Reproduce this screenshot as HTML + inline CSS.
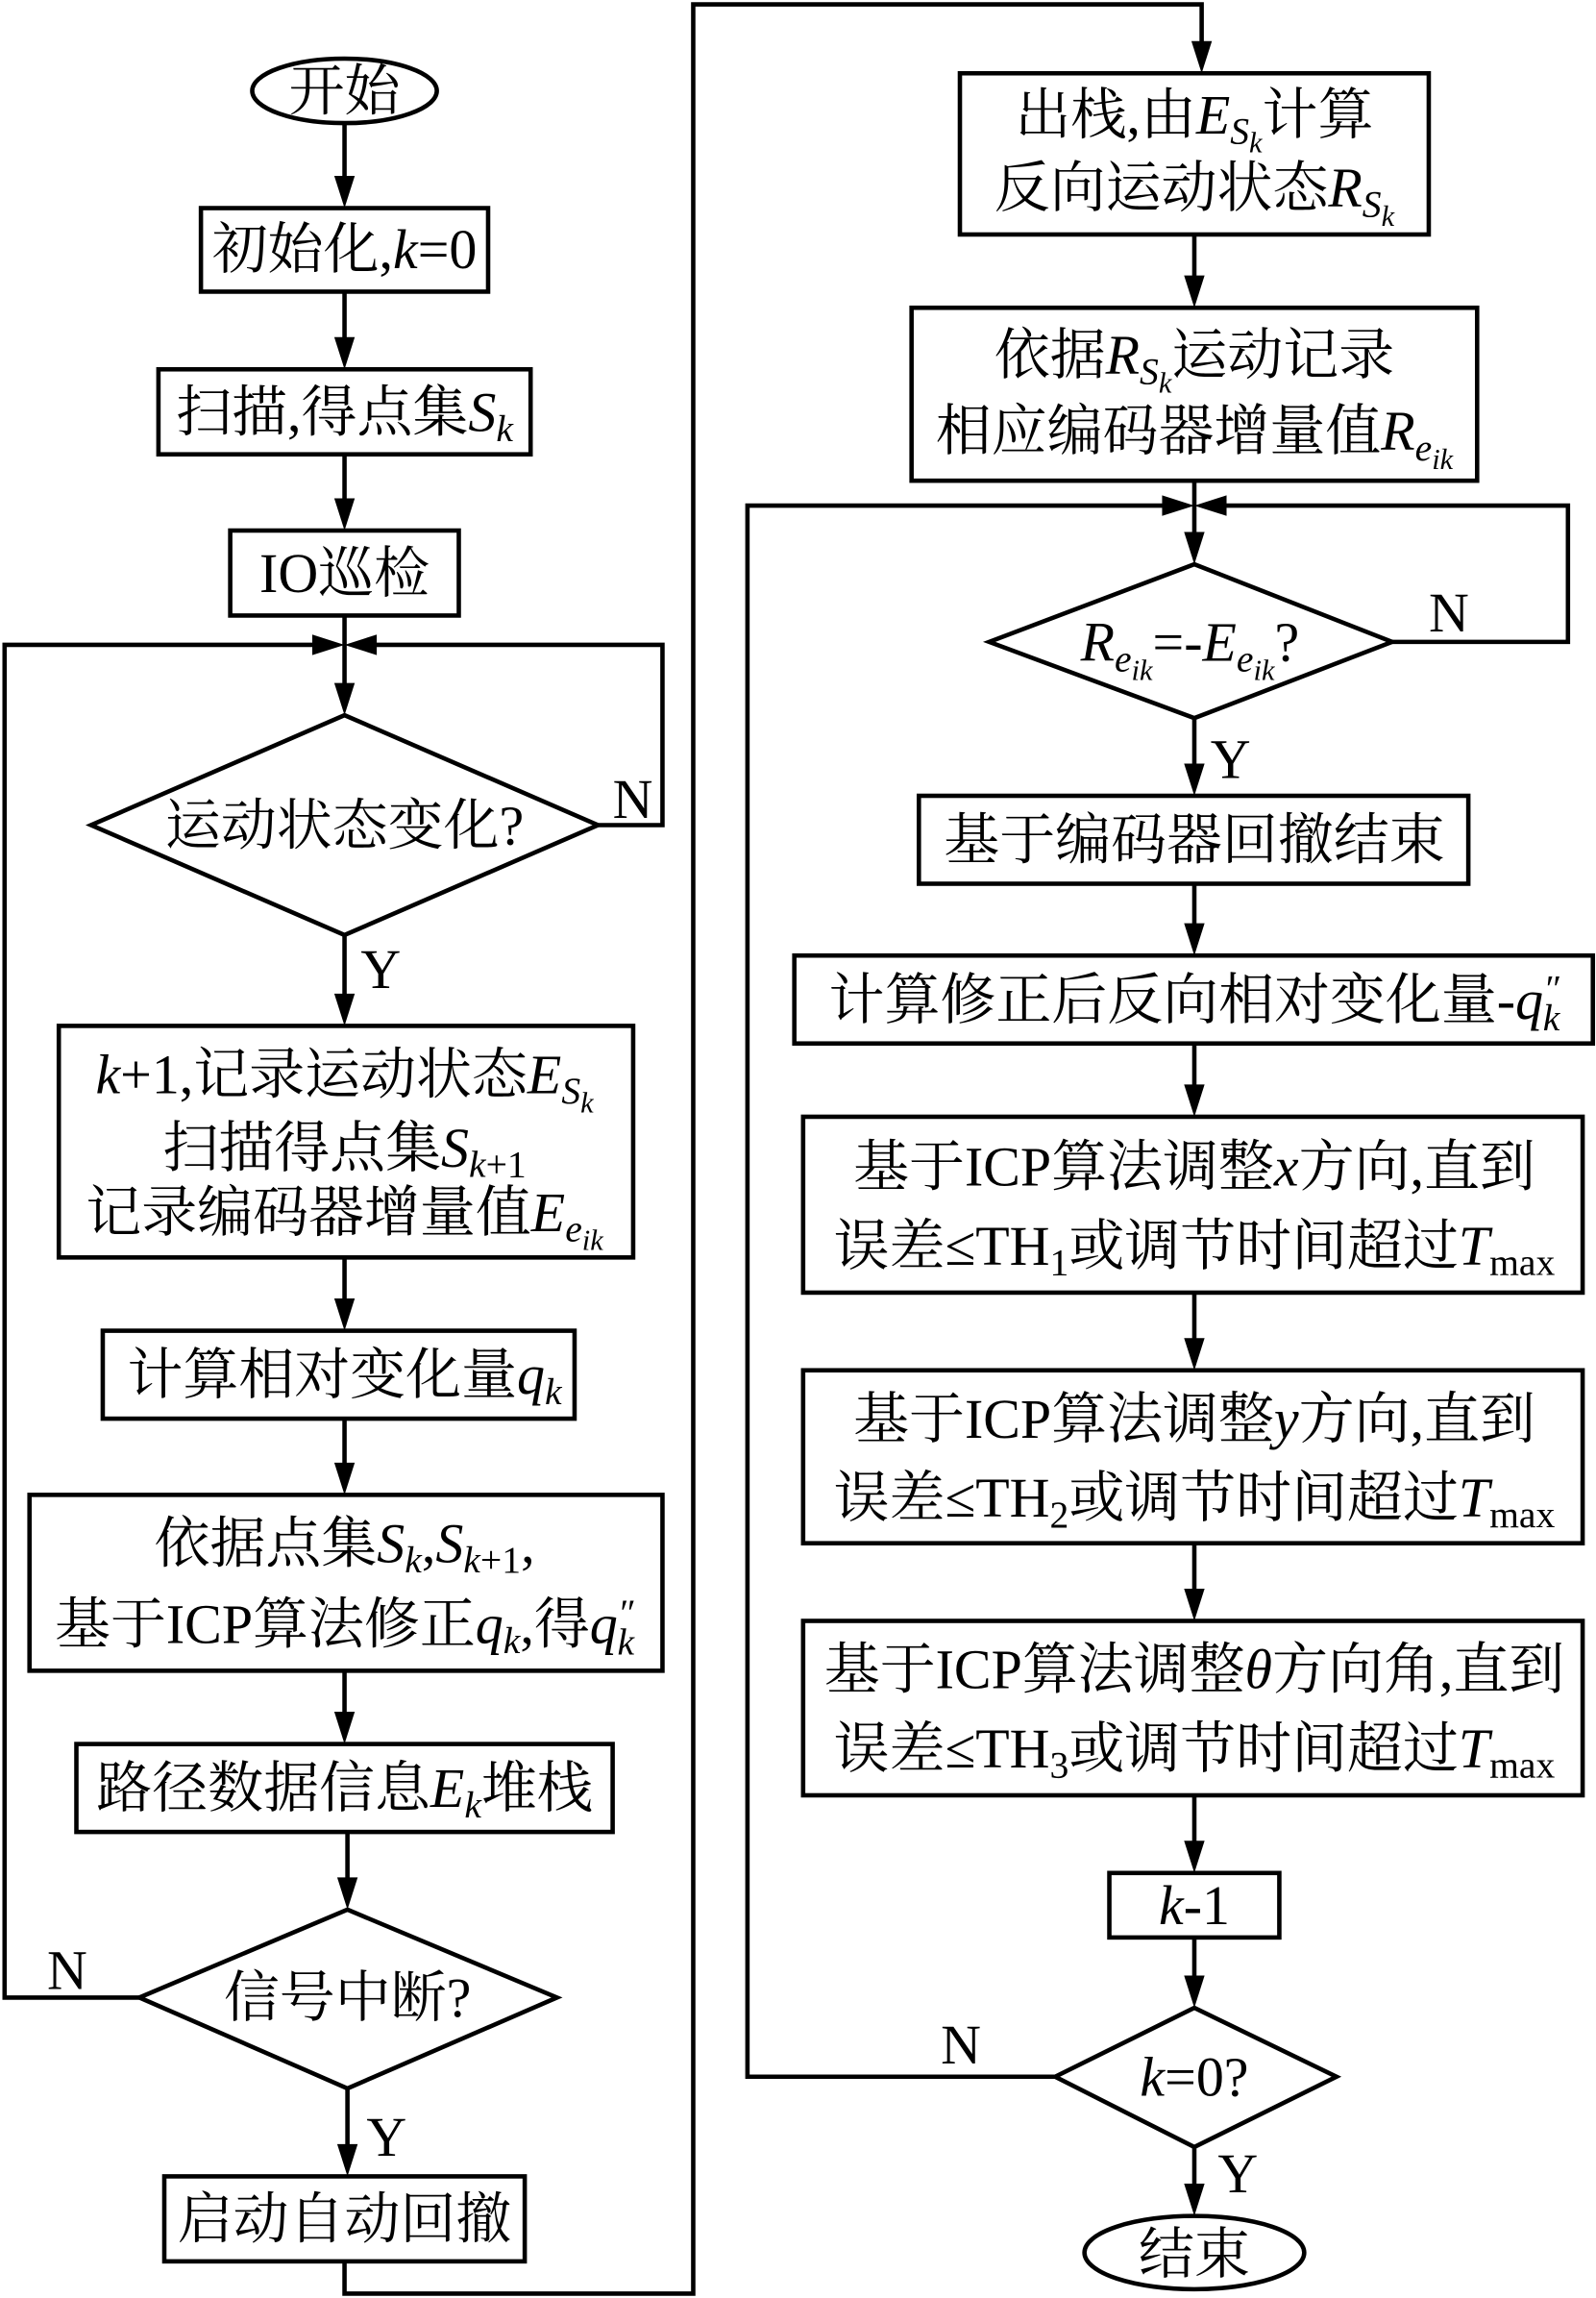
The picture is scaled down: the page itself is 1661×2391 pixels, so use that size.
<!DOCTYPE html>
<html><head><meta charset="utf-8">
<style>
html,body{margin:0;padding:0;background:#fff;}
svg{display:block;}
text{font-family:"Liberation Serif","Noto Serif CJK SC",serif;font-size:38px;fill:#000;}
.i{font-style:italic;}
</style></head>
<body>
<svg width="1661" height="2391" viewBox="0 0 1089 1568" xmlns="http://www.w3.org/2000/svg">
<g fill="none" stroke="#000" stroke-width="3">
<ellipse cx="235" cy="62" rx="63" ry="22"/>
<rect x="137" y="142" width="196" height="57"/>
<rect x="108" y="252" width="254" height="58"/>
<rect x="157" y="362" width="156" height="58"/>
<polygon points="62,563 235,488 408,563 235,638"/>
<rect x="40" y="700" width="392" height="158"/>
<rect x="70" y="908" width="322" height="60"/>
<rect x="20" y="1020" width="432" height="120"/>
<rect x="52" y="1190" width="366" height="60"/>
<polygon points="95,1363 237,1303 380,1363 237,1425"/>
<rect x="112" y="1485" width="246" height="58"/>
<rect x="655" y="50" width="320" height="110"/>
<rect x="622" y="210" width="386" height="118"/>
<polygon points="675,438 815,385 950,438 815,490"/>
<rect x="627" y="543" width="375" height="60"/>
<rect x="542" y="652" width="545" height="60"/>
<rect x="548" y="762" width="532" height="120"/>
<rect x="548" y="935" width="532" height="118"/>
<rect x="548" y="1106" width="532" height="119"/>
<rect x="757" y="1278" width="116" height="44"/>
<polygon points="720,1417 815,1370 912,1417 815,1465"/>
<ellipse cx="815" cy="1537" rx="75" ry="25"/>
<line x1="235" y1="84" x2="235" y2="128"/>
<line x1="235" y1="199" x2="235" y2="238"/>
<line x1="235" y1="310" x2="235" y2="348"/>
<line x1="235" y1="420" x2="235" y2="474"/>
<polyline points="408,563 452,563 452,440 250,440"/>
<polyline points="95,1363 3,1363 3,440 220,440"/>
<line x1="235" y1="638" x2="235" y2="686"/>
<line x1="235" y1="858" x2="235" y2="894"/>
<line x1="235" y1="968" x2="235" y2="1006"/>
<line x1="235" y1="1140" x2="235" y2="1176"/>
<line x1="237" y1="1250" x2="237" y2="1289"/>
<line x1="237" y1="1425" x2="237" y2="1471"/>
<polyline points="235,1543 235,1565 473,1565 473,3 820,3 820,36"/>
<line x1="815" y1="160" x2="815" y2="196"/>
<line x1="815" y1="328" x2="815" y2="371"/>
<polyline points="950,438 1070,438 1070,345 830,345"/>
<polyline points="720,1417 510,1417 510,345 800,345"/>
<line x1="815" y1="490" x2="815" y2="529"/>
<line x1="815" y1="603" x2="815" y2="638"/>
<line x1="815" y1="712" x2="815" y2="748"/>
<line x1="815" y1="882" x2="815" y2="921"/>
<line x1="815" y1="1053" x2="815" y2="1092"/>
<line x1="815" y1="1225" x2="815" y2="1264"/>
<line x1="815" y1="1322" x2="815" y2="1356"/>
<line x1="815" y1="1465" x2="815" y2="1498"/>
</g>
<g fill="#000">
<polygon points="228,120 242,120 235,142"/>
<polygon points="228,230 242,230 235,252"/>
<polygon points="228,340 242,340 235,362"/>
<polygon points="228,466 242,466 235,488"/>
<polygon points="228,678 242,678 235,700"/>
<polygon points="228,886 242,886 235,908"/>
<polygon points="228,998 242,998 235,1020"/>
<polygon points="228,1168 242,1168 235,1190"/>
<polygon points="230,1281 244,1281 237,1303"/>
<polygon points="230,1463 244,1463 237,1485"/>
<polygon points="813,28 827,28 820,50"/>
<polygon points="808,188 822,188 815,210"/>
<polygon points="808,363 822,363 815,385"/>
<polygon points="808,521 822,521 815,543"/>
<polygon points="808,630 822,630 815,652"/>
<polygon points="808,740 822,740 815,762"/>
<polygon points="808,913 822,913 815,935"/>
<polygon points="808,1084 822,1084 815,1106"/>
<polygon points="808,1256 822,1256 815,1278"/>
<polygon points="808,1348 822,1348 815,1370"/>
<polygon points="808,1490 822,1490 815,1512"/>
<polygon points="257,433 257,447 235,440"/>
<polygon points="213,433 213,447 235,440"/>
<polygon points="837,338 837,352 815,345"/>
<polygon points="793,338 793,352 815,345"/>
</g>
<g text-anchor="middle">
<text x="235" y="75">开始</text>
<text x="235" y="183">初始化,<tspan class="i">k</tspan>=0</text>
<text x="235" y="294">扫描,得点集<tspan class="i">S</tspan><tspan class="i" font-size="26" dy="7">k</tspan></text>
<text x="235" y="404">IO巡检</text>
<text x="235" y="576">运动状态变化?</text>
<text x="235" y="746"><tspan class="i">k</tspan>+1,记录运动状态<tspan class="i">E</tspan><tspan class="i" font-size="26" dy="7">S</tspan><tspan class="i" font-size="20" dy="6">k</tspan></text>
<text x="235" y="796">扫描得点集<tspan class="i">S</tspan><tspan font-size="26" dy="7"><tspan class="i">k</tspan>+1</tspan></text>
<text x="235" y="840">记录编码器增量值<tspan class="i">E</tspan><tspan class="i" font-size="26" dy="7">e</tspan><tspan class="i" font-size="20" dy="6">ik</tspan></text>
<text x="235" y="951">计算相对变化量<tspan class="i">q</tspan><tspan class="i" font-size="26" dy="7">k</tspan></text>
<text x="235" y="1066">依据点集<tspan class="i">S</tspan><tspan class="i" font-size="26" dy="7">k</tspan><tspan dy="-7">,</tspan><tspan class="i">S</tspan><tspan font-size="26" dy="7"><tspan class="i">k</tspan>+1</tspan><tspan dy="-7">,</tspan></text>
<text x="235" y="1121">基于ICP算法修正<tspan class="i">q</tspan><tspan class="i" font-size="26" dy="7">k</tspan><tspan dy="-7">,得</tspan><tspan class="i">q</tspan><tspan class="i" font-size="26" dy="-12">″</tspan><tspan class="i" font-size="26" dx="-11" dy="20">k</tspan></text>
<text x="235" y="1233">路径数据信息<tspan class="i">E</tspan><tspan class="i" font-size="26" dy="7">k</tspan><tspan dy="-7">堆栈</tspan></text>
<text x="237" y="1376">信号中断?</text>
<text x="235" y="1527">启动自动回撤</text>

<text x="815" y="91">出栈,由<tspan class="i">E</tspan><tspan class="i" font-size="26" dy="7">S</tspan><tspan class="i" font-size="20" dy="6">k</tspan><tspan dy="-13">计算</tspan></text>
<text x="815" y="141">反向运动状态<tspan class="i">R</tspan><tspan class="i" font-size="26" dy="7">S</tspan><tspan class="i" font-size="20" dy="6">k</tspan></text>
<text x="815" y="255">依据<tspan class="i">R</tspan><tspan class="i" font-size="26" dy="7">S</tspan><tspan class="i" font-size="20" dy="6">k</tspan><tspan dy="-13">运动记录</tspan></text>
<text x="815" y="307">相应编码器增量值<tspan class="i">R</tspan><tspan class="i" font-size="26" dy="7">e</tspan><tspan class="i" font-size="20" dy="6">ik</tspan></text>
<text x="812" y="451"><tspan class="i">R</tspan><tspan class="i" font-size="26" dy="7">e</tspan><tspan class="i" font-size="20" dy="6">ik</tspan><tspan dy="-13">=-</tspan><tspan class="i">E</tspan><tspan class="i" font-size="26" dy="7">e</tspan><tspan class="i" font-size="20" dy="6">ik</tspan><tspan dy="-13">?</tspan></text>
<text x="815" y="586">基于编码器回撤结束</text>
<text x="815" y="695">计算修正后反向相对变化量-<tspan class="i">q</tspan><tspan class="i" font-size="26" dy="-12">″</tspan><tspan class="i" font-size="26" dx="-11" dy="20">k</tspan></text>
<text x="815" y="809">基于ICP算法调整<tspan class="i">x</tspan>方向,直到</text>
<text x="815" y="863">误差≤TH<tspan font-size="26" dy="7">1</tspan><tspan dy="-7">或调节时间超过</tspan><tspan class="i">T</tspan><tspan font-size="26" dy="7">max</tspan></text>
<text x="815" y="981">基于ICP算法调整<tspan class="i">y</tspan>方向,直到</text>
<text x="815" y="1035">误差≤TH<tspan font-size="26" dy="7">2</tspan><tspan dy="-7">或调节时间超过</tspan><tspan class="i">T</tspan><tspan font-size="26" dy="7">max</tspan></text>
<text x="815" y="1152">基于ICP算法调整<tspan class="i">θ</tspan>方向角,直到</text>
<text x="815" y="1206">误差≤TH<tspan font-size="26" dy="7">3</tspan><tspan dy="-7">或调节时间超过</tspan><tspan class="i">T</tspan><tspan font-size="26" dy="7">max</tspan></text>
<text x="815" y="1313"><tspan class="i">k</tspan>-1</text>
<text x="815" y="1430"><tspan class="i">k</tspan>=0?</text>
<text x="815" y="1551">结束</text>
</g>
<g>
<text x="418" y="558">N</text>
<text x="246" y="674">Y</text>
<text x="32" y="1357">N</text>
<text x="250" y="1471">Y</text>
<text x="975" y="431">N</text>
<text x="826" y="531">Y</text>
<text x="642" y="1408">N</text>
<text x="831" y="1496">Y</text>
</g>
</svg>
</body></html>
